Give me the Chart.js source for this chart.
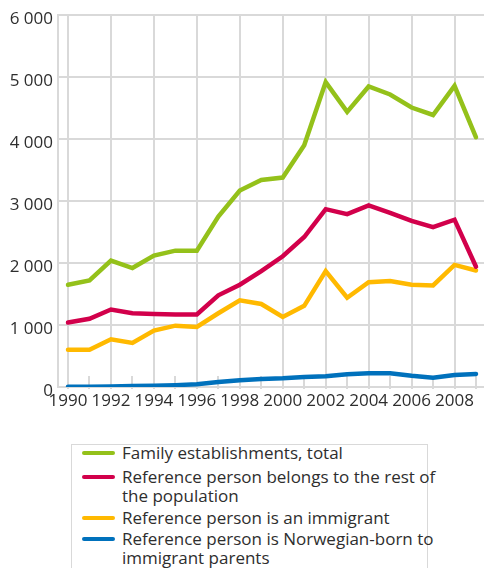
<!DOCTYPE html>
<html>
<head>
<meta charset="utf-8">
<script src="https://cdn.jsdelivr.net/npm/chart.js@4/dist/chart.umd.min.js"></script>
<style>
  html, body { margin: 0; padding: 0; background: #fff; }
  body { width: 484px; height: 568px; position: relative; overflow: hidden; font-family: 'Open Sans', sans-serif; color: #2e2e2e; }
  #wrap { position: absolute; left: 0; top: 0; width: 484px; height: 420px; }
  #legend { position: absolute; left: 71px; top: 444px; width: 357px; height: 140px; box-sizing: border-box;
            border: 1px solid #d9d9d9; border-bottom: none; }
  .item { position: absolute; left: 0; font-size: 17px; line-height: 19px; white-space: nowrap; }
  .swatch { position: absolute; left: 10px; width: 33px; height: 4.5px; border-radius: 3px; top: 7.5px; }
  .label { position: absolute; left: 50px; top: 0; }
</style>
</head>
<body>
<div id="wrap"><canvas id="c" width="484" height="420"></canvas></div>
<div id="legend"></div>
<script>
// ---- data ----
const years = [1990, 1991, 1992, 1993, 1994, 1995, 1996, 1997, 1998, 1999,
               2000, 2001, 2002, 2003, 2004, 2005, 2006, 2007, 2008, 2009];
const total      = [1650, 1720, 2040, 1920, 2120, 2200, 2200, 2750, 3170, 3340,
                    3380, 3900, 4920, 4440, 4850, 4720, 4510, 4390, 4860, 4030];
const restPop    = [1040, 1100, 1250, 1190, 1180, 1170, 1170, 1480, 1650, 1870,
                    2110, 2420, 2870, 2790, 2930, 2810, 2680, 2580, 2700, 1940];
const immigrant  = [600, 600, 770, 710, 910, 990, 970, 1190, 1400, 1340,
                    1130, 1310, 1870, 1440, 1690, 1710, 1650, 1640, 1970, 1880];
const norwBorn   = [5, 5, 10, 15, 20, 30, 45, 80, 110, 130,
                    140, 160, 175, 205, 220, 220, 180, 150, 195, 210];
const xTickYears = [1990, 1992, 1994, 1996, 1998, 2000, 2002, 2004, 2006, 2008];
const yTickValues = [0, 1000, 2000, 3000, 4000, 5000, 6000];
const seriesNames = [
  'Family establishments, total',
  'Reference person belongs to the rest of\nthe population',
  'Reference person is an immigrant',
  'Reference person is Norwegian-born to\nimmigrant parents'
];
const seriesColors = ['#94c11a', '#d2004b', '#ffb900', '#0071bc'];
const seriesData = [total, restPop, immigrant, norwBorn];

// ---- chart ----
const GRID = '#d9d9d9';
Chart.defaults.font.family = "'Open Sans', sans-serif";
Chart.defaults.font.size = 17;
Chart.defaults.color = '#2e2e2e';

const fmt = v => String(v).replace(/\B(?=(\d{3})+(?!\d))/g, ' ');

const minorTicks = {
  id: 'minorTicks',
  beforeDatasetsDraw(chart) {
    const xs = chart.scales.x, area = chart.chartArea, ctx = chart.ctx;
    ctx.save();
    ctx.strokeStyle = GRID;
    ctx.lineWidth = 2;
    years.filter(y => xTickYears.indexOf(y) < 0).forEach(y => {
      const px = Math.round(xs.getPixelForValue(y));
      ctx.beginPath();
      ctx.moveTo(px, area.bottom - 11);
      ctx.lineTo(px, area.bottom + 2);
      ctx.stroke();
    });
    ctx.restore();
  }
};

new Chart(document.getElementById('c'), {
  type: 'line',
  data: {
    datasets: seriesData.map((d, i) => ({
      label: seriesNames[i],
      data: years.map((y, j) => ({ x: y, y: d[j] })),
      borderColor: seriesColors[i],
      backgroundColor: seriesColors[i],
      borderWidth: 4.5,
      pointRadius: 0,
      tension: 0,
      borderCapStyle: 'round',
      fill: false
    }))
  },
  options: {
    responsive: false,
    animation: false,
    layout: { padding: { top: 15, right: 0, left: 0, bottom: 0 } },
    plugins: { legend: { display: false }, tooltip: { enabled: false } },
    scales: {
      x: {
        type: 'linear',
        min: 1989.534,
        max: 2009.372,
        afterBuildTicks: s => { s.ticks = xTickYears.map(v => ({ value: v })); },
        afterFit: s => { s.height = 33; },
        ticks: { callback: v => String(v), maxRotation: 0, autoSkip: false, padding: 2, font: { size: 17 } },
        grid: { color: GRID, lineWidth: 2, tickLength: 2 },
        border: { display: false }
      },
      y: {
        min: 0,
        max: 6000,
        afterBuildTicks: s => { s.ticks = yTickValues.map(v => ({ value: v })); },
        afterFit: s => { s.width = 58; },
        ticks: { callback: v => fmt(v), padding: 5, labelOffset: 4, font: { size: 17 } },
        grid: { color: GRID, lineWidth: 2, drawTicks: false },
        border: { display: true, color: GRID, width: 2 }
      }
    }
  },
  plugins: [minorTicks]
});

// ---- legend (HTML text) ----
const legend = document.getElementById('legend');
const tops = [-2, 22, 63, 84];
seriesNames.forEach((name, i) => {
  const it = document.createElement('div');
  it.className = 'item';
  it.style.top = tops[i] + 'px';
  const sw = document.createElement('div');
  sw.className = 'swatch';
  sw.style.background = seriesColors[i];
  const lb = document.createElement('div');
  lb.className = 'label';
  lb.innerHTML = name.split('\n').join('<br>');
  it.appendChild(sw); it.appendChild(lb);
  legend.appendChild(it);
});
</script>
</body>
</html>
